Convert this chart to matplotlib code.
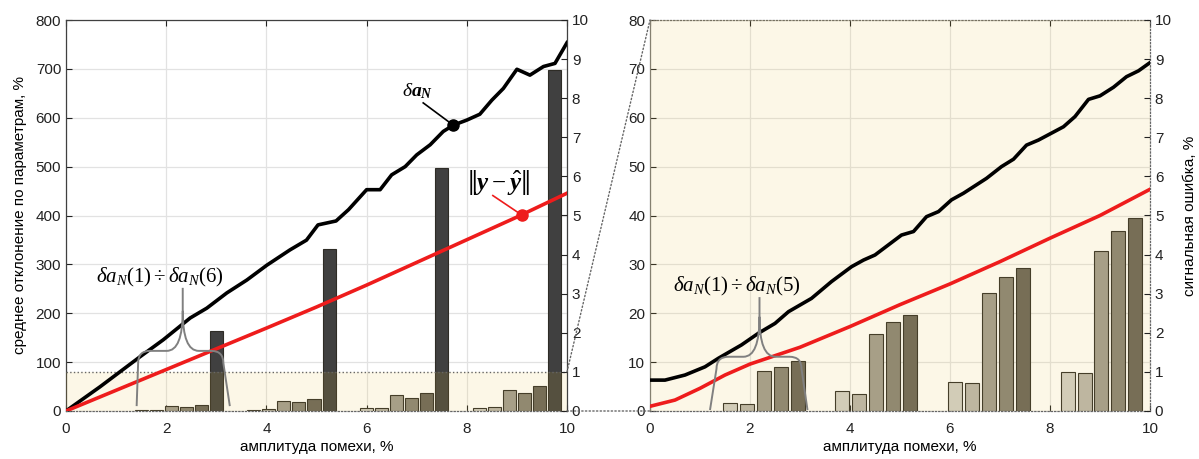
import matplotlib
matplotlib.use('Agg')
import numpy as np
import matplotlib.pyplot as plt
from matplotlib.patches import Rectangle, ConnectionPatch, PathPatch
from matplotlib.path import Path
from matplotlib.transforms import IdentityTransform

plt.rcParams['font.family'] = ['Liberation Sans', 'DejaVu Sans']
plt.rcParams['mathtext.fontset'] = 'custom'
plt.rcParams['mathtext.rm'] = 'Liberation Serif'
plt.rcParams['mathtext.it'] = 'Liberation Serif:italic'
plt.rcParams['mathtext.bf'] = 'Liberation Serif:italic:bold'

# ---------------- data ----------------
# left panel lines (signal error, %, right axis)
left_black_x = [0, 0.68, 1.48, 1.94, 2.48, 2.81, 3.21, 3.61, 4.01, 4.47, 4.80, 5.03, 5.39,
                5.64, 6.00, 6.27, 6.50, 6.77, 7.00, 7.27, 7.53, 7.73, 8.00, 8.26, 8.50,
                8.73, 9.00, 9.26, 9.53, 9.76, 10.0]
left_black_y = [0, 0.62, 1.39, 1.82, 2.38, 2.63, 3.02, 3.35, 3.73, 4.12, 4.37, 4.76, 4.86,
                5.15, 5.66, 5.66, 6.04, 6.25, 6.55, 6.81, 7.15, 7.31, 7.44, 7.59, 7.95,
                8.25, 8.74, 8.59, 8.81, 8.89, 9.42]
left_red_x = [0, 1, 2, 3, 4, 5, 6, 7, 8, 9, 10]
left_red_y = [0, 0.53, 1.06, 1.59, 2.12, 2.66, 3.22, 3.80, 4.38, 4.96, 5.57]

# left panel bars (mean parameter deviation, %, left axis), groups of 6
left_group_start = [1.5, 3.75, 6.0, 8.25]
left_bars = [[2, 1.5, 10, 9, 12, 163],
             [3, 5, 21, 18, 24, 331],
             [6, 7, 32, 27, 36, 498],
             [7, 8, 43, 36, 51, 697]]

# right panel lines (right axis)
right_black_x = [0, 0.3, 0.7, 1.1, 1.37, 1.83, 2.17, 2.5, 2.77, 3.23, 3.63, 4.03, 4.27, 4.5,
                 5.03, 5.27, 5.53, 5.77, 6.03, 6.27, 6.73, 7.03, 7.27, 7.53, 7.77, 8.27,
                 8.5, 8.77, 9.0, 9.27, 9.53, 9.77, 10.0]
right_black_y = [0.79, 0.79, 0.92, 1.13, 1.35, 1.69, 1.99, 2.24, 2.54, 2.88, 3.31, 3.69, 3.86,
                 3.99, 4.5, 4.59, 4.97, 5.1, 5.4, 5.57, 5.95, 6.25, 6.44, 6.8, 6.93, 7.27,
                 7.53, 7.97, 8.06, 8.28, 8.55, 8.7, 8.91]
right_red_x = [0, 0.5, 1, 1.5, 2, 3, 4, 5, 6, 7, 8, 9, 10]
right_red_y = [0.12, 0.28, 0.58, 0.92, 1.2, 1.63, 2.16, 2.72, 3.25, 3.82, 4.42, 5.0, 5.67]

# right panel bars, groups of 5
right_group_start = [1.6, 3.85, 6.1, 8.35]
right_bars = [[1.7, 1.4, 8.2, 9.1, 10.2],
              [4.0, 3.5, 15.8, 18.3, 19.6],
              [6.0, 5.7, 24.1, 27.5, 29.2],
              [8.0, 7.7, 32.7, 36.8, 39.5]]

bar_colors = ['#cfcdc8', '#b8b5ae', '#9e9a91', '#858177', '#67635a', '#404040']
overlay_color = (238 / 255, 197 / 255, 63 / 255)
overlay_alpha = 0.12

xlabel = 'амплитуда помехи, %'
ylabel_left = 'среднее отклонение по параметрам, %'
ylabel_right = 'сигнальная ошибка, %'

# ---------------- figure ----------------
W, H = 1199, 459
fig = plt.figure(figsize=(W / 100, H / 100), dpi=100)
axL = fig.add_axes([66 / W, 48 / H, 501 / W, 391 / H])
axR = fig.add_axes([650 / W, 48 / H, 500 / W, 391 / H])

spine_col = '#404040'
grid_col = '#e2e2e2'
fs = 11


def style_axes(ax, ylim, yticks):
    ax.set_xlim(0, 10)
    ax.set_ylim(*ylim)
    ax.set_xticks(range(0, 11, 2))
    ax.set_yticks(yticks)
    ax.tick_params(direction='in', top=True, right=False, length=4, labelsize=fs,
                   colors='#222222')
    ax.tick_params(axis='x', pad=8)
    ax.grid(True, color=grid_col, lw=0.9, zorder=0)
    ax.set_axisbelow(True)
    for s in ax.spines.values():
        s.set_color(spine_col)
        s.set_linewidth(0.9)


# ---- left panel ----
style_axes(axL, (0, 800), range(0, 801, 100))
bw_l = 0.26
for gs, vals in zip(left_group_start, left_bars):
    for k, v in enumerate(vals):
        axL.bar(gs + k * 0.3, v, width=bw_l, color=bar_colors[k],
                edgecolor='#2e2c26', lw=0.8, zorder=2)
axL.add_patch(Rectangle((0, 0), 10, 80, facecolor=overlay_color, alpha=overlay_alpha,
                        edgecolor='none', zorder=3))
axL.plot([0, 10], [80, 80], ls=':', color='#666666', lw=1.0, zorder=4)
axL.spines['bottom'].set_linestyle(':')
axL.spines['bottom'].set_color('#666666')
axL.set_xlabel(xlabel, fontsize=fs, labelpad=3)
axL.set_ylabel(ylabel_left, fontsize=fs, labelpad=6)

axL2 = axL.twinx()
axL2.set_ylim(0, 10)
axL2.set_yticks(range(0, 11))
axL2.tick_params(direction='in', length=4, labelsize=fs, colors='#222222')
for s in axL2.spines.values():
    s.set_visible(False)
axL2.plot(left_black_x, left_black_y, color='black', lw=2.6, zorder=5,
          solid_joinstyle='round')
axL2.plot(left_red_x, left_red_y, color='#ee1c1c', lw=2.6, zorder=5)

# markers and labels
axL2.plot([7.73], [7.31], 'o', color='black', ms=8, zorder=6)
axL2.plot([7.13, 7.73], [7.88, 7.31], color='black', lw=1.2, zorder=6)
axL2.text(7.01, 8.18, r'$\delta\mathbf{a}_{\mathbf{N}}$', fontsize=14, ha='center',
          va='center', zorder=7)
axL2.plot([9.1], [5.01], 'o', color='#ee1c1c', ms=8, zorder=6)
axL2.plot([8.52, 9.1], [5.51, 5.01], color='#ee1c1c', lw=1.2, zorder=6)
axL2.text(8.64, 5.85, r'$\left\Vert\mathbf{y}-\hat{\mathbf{y}}\right\Vert$', fontsize=18,
          ha='center', va='center', zorder=7)

# ---- right panel ----
style_axes(axR, (0, 80), range(0, 81, 10))
bw_r = 0.28
for gs, vals in zip(right_group_start, right_bars):
    for k, v in enumerate(vals):
        axR.bar(gs + k * 0.34, v, width=bw_r, color=bar_colors[k],
                edgecolor='#2e2c26', lw=0.8, zorder=2)
axR.add_patch(Rectangle((0, 0), 1, 1, transform=axR.transAxes, facecolor=overlay_color,
                        alpha=overlay_alpha, edgecolor='none', zorder=3))
for side in ['top', 'bottom', 'right']:
    axR.spines[side].set_linestyle(':')
    axR.spines[side].set_color('#666666')
axR.spines['left'].set_color('#777777')
axR.set_xlabel(xlabel, fontsize=fs, labelpad=3)

axR2 = axR.twinx()
axR2.set_ylim(0, 10)
axR2.set_yticks(range(0, 11))
axR2.tick_params(direction='in', length=4, labelsize=fs, colors='#222222')
for s in axR2.spines.values():
    s.set_visible(False)
axR2.set_ylabel(ylabel_right, fontsize=fs, labelpad=8)
axR2.plot(right_black_x, right_black_y, color='black', lw=2.6, zorder=5)
axR2.plot(right_red_x, right_red_y, color='#ee1c1c', lw=2.6, zorder=5)

# connection lines between panels
for yv in (80, 0):
    con = ConnectionPatch(xyA=(10, yv), coordsA=axL.transData, xyB=(0, yv),
                          coordsB=axR.transData, ls=':', color='#666666', lw=1.0)
    fig.add_artist(con)


# ---- curly braces ----
def brace(ax, xl_bot, xl, xt, xr, xr_bot, y_bot, y_arm, y_tip):
    T = ax.transData
    pb_l = T.transform((xl_bot, y_bot))
    pa_l = T.transform((xl, y_arm))
    pt = T.transform((xt, y_tip))
    pa_r = T.transform((xr, y_arm))
    pb_r = T.transform((xr_bot, y_bot))
    pa_t = T.transform((xt, y_arm))
    c = 12.0   # corner radius px
    sw, sh = 16.0, 40.0   # spike shoulder width/height px
    verts = [
        tuple(pb_l),
        (pa_l[0], pa_l[1] - c),
        (pa_l[0], pa_l[1]),
        (pa_l[0] + c, pa_l[1]),
        (pa_t[0] - sw, pa_t[1]),
        (pa_t[0], pa_t[1]),
        (pa_t[0], pa_t[1] + sh),
        tuple(pt),
        (pa_t[0], pa_t[1] + sh),
        (pa_t[0], pa_t[1]),
        (pa_t[0] + sw, pa_t[1]),
        (pa_r[0] - c, pa_r[1]),
        (pa_r[0], pa_r[1]),
        (pa_r[0], pa_r[1] - c),
        tuple(pb_r),
    ]
    codes = [Path.MOVETO, Path.LINETO, Path.CURVE3, Path.CURVE3, Path.LINETO,
             Path.CURVE3, Path.CURVE3, Path.LINETO, Path.MOVETO, Path.CURVE3,
             Path.CURVE3, Path.LINETO, Path.CURVE3, Path.CURVE3, Path.LINETO]
    p = PathPatch(Path(verts, codes), transform=IdentityTransform(), facecolor='none',
                  edgecolor='#808080', lw=1.4, zorder=8)
    fig.add_artist(p)


brace(axL, 1.41, 1.44, 2.33, 3.14, 3.27, 10, 123, 252)
axL.text(1.88, 274, r'$\delta a_N(1)\div\delta a_N(6)$', fontsize=15, ha='center',
         va='center', zorder=9)
brace(axR, 1.20, 1.33, 2.19, 3.03, 3.15, 0.2, 11.1, 23.3)
axR.text(1.73, 25.4, r'$\delta a_N(1)\div\delta a_N(5)$', fontsize=15, ha='center',
         va='center', zorder=9)

fig.savefig('out.png', dpi=100)
